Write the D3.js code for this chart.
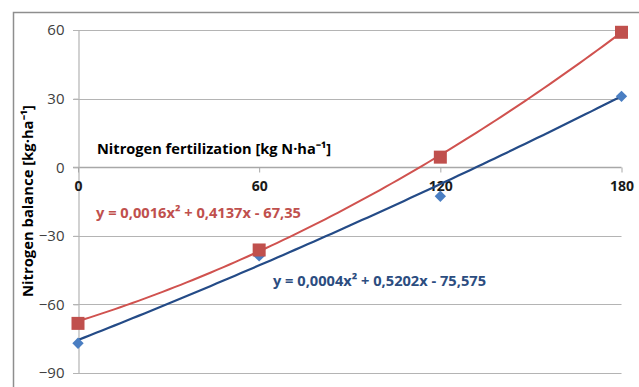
<!DOCTYPE html>
<html>
<head>
<meta charset="utf-8">
<script src="https://cdn.jsdelivr.net/npm/d3@7"></script>
<style>
    body { margin: 0; background: #fff; }
    svg { display: block; font-family: 'Open Sans', sans-serif; }
</style>
</head>
<body>
<div id="chart"></div>
<script>
// Dane
const xValues = [0, 60, 120, 180];
const blueValues = [-77, -38.8, -12.7, 31];
const redValues = [-68.3, -36.2, 4.4, 59];

const xTicks = [0, 60, 120, 180];
const yTicks = [60, 30, 0, -30, -60, -90];

// współczynniki trendu wielomianowego: c0 + c1*x + c2*x^2
const blueFit = [-75.575, 0.5202, 0.0004];
const redFit = [-67.35, 0.4137, 0.0016];

const blueLabel = 'y = 0,0004x² + 0,5202x - 75,575';
const redLabel = 'y = 0,0016x² + 0,4137x - 67,35';
const xTitleText = 'Nitrogen fertilization [kg N·ha⁻¹]';
const yTitleText = 'Nitrogen balance  [kg·ha⁻¹]';

const width = 639;
const height = 387;

const x = d3.scaleLinear().domain([0, 180]).range([78, 621.5]);
const y = d3.scaleLinear().domain([-90, 60]).range([373, 30]);

const svg = d3.select('#chart')
    .append('svg')
    .attr('width', width)
    .attr('height', height);

// ramka wykresu
svg.append('path')
    .attr('d', `M13.5,${height} V12.5 H${width}`)
    .attr('fill', 'none')
    .attr('stroke', '#8e8e8e')
    .attr('stroke-width', 1.5);

// linie siatki
svg.append('g')
    .selectAll('line')
    .data(yTicks)
    .enter()
    .append('line')
    .attr('x1', x(0) - 5)
    .attr('x2', x(180))
    .attr('y1', d => Math.round(y(d)) + 0.5)
    .attr('y2', d => Math.round(y(d)) + 0.5)
    .attr('stroke', d => d === 0 ? '#a8a8a8' : '#b4b4b4')
    .attr('stroke-width', d => d === 0 ? 1.5 : 1.2);

// oś Y
const yAxis = svg.append('g')
    .attr('transform', `translate(${Math.round(x(0)) + 0.5},0)`)
    .call(d3.axisLeft(y).tickValues(yTicks).tickSize(5).tickPadding(9));
yAxis.select('.domain').attr('stroke', '#b4b4b4').attr('stroke-width', 1.2);
yAxis.selectAll('.tick line').attr('stroke', '#b4b4b4');
yAxis.selectAll('.tick text')
    .attr('font-family', "'Open Sans', sans-serif")
    .attr('font-size', 15)
    .attr('fill', '#404040');

// oś X na poziomie zera
const xAxis = svg.append('g')
    .attr('transform', `translate(0,${Math.round(y(0)) + 0.5})`)
    .call(d3.axisBottom(x).tickValues(xTicks).tickSize(5).tickPadding(9));
xAxis.select('.domain').remove();
xAxis.selectAll('.tick line').attr('stroke', '#a8a8a8');
xAxis.selectAll('.tick text')
    .attr('font-family', "'Open Sans', sans-serif")
    .attr('font-size', 14)
    .attr('font-weight', 'bold')
    .attr('fill', '#1a1a1a');

// linie trendu
const trendX = d3.range(0, 180.5, 2);
const line = d3.line()
    .x(d => x(d[0]))
    .y(d => y(d[1]));

function trend(c) {
    return trendX.map(v => [v, c[0] + c[1] * v + c[2] * v * v]);
}

svg.append('path')
    .datum(trend(redFit))
    .attr('d', line)
    .attr('fill', 'none')
    .attr('stroke', '#d0524f')
    .attr('stroke-width', 2);

svg.append('path')
    .datum(trend(blueFit))
    .attr('d', line)
    .attr('fill', 'none')
    .attr('stroke', '#244b87')
    .attr('stroke-width', 2.2);

// znaczniki
svg.append('g')
    .selectAll('rect')
    .data(xValues.map((v, i) => [v, blueValues[i]]))
    .enter()
    .append('rect')
    .attr('x', -4)
    .attr('y', -4)
    .attr('width', 8)
    .attr('height', 8)
    .attr('fill', '#4a7ec2')
    .attr('transform', d => `translate(${x(d[0])},${y(d[1])}) rotate(45)`);

svg.append('g')
    .selectAll('rect')
    .data(xValues.map((v, i) => [v, redValues[i]]))
    .enter()
    .append('rect')
    .attr('x', d => x(d[0]) - 6.5)
    .attr('y', d => y(d[1]) - 6.5)
    .attr('width', 13)
    .attr('height', 13)
    .attr('fill', '#c0504d');

// równania
svg.append('text')
    .attr('x', 96)
    .attr('y', 218)
    .attr('font-size', 15)
    .attr('font-weight', 'bold')
    .attr('fill', '#c0504d')
    .attr('textLength', 205)
    .attr('lengthAdjust', 'spacingAndGlyphs')
    .text(redLabel);

svg.append('text')
    .attr('x', 273)
    .attr('y', 286)
    .attr('font-size', 15)
    .attr('font-weight', 'bold')
    .attr('fill', '#2c4d80')
    .attr('textLength', 213)
    .attr('lengthAdjust', 'spacingAndGlyphs')
    .text(blueLabel);

// tytuły osi
svg.append('text')
    .attr('x', 97)
    .attr('y', 154)
    .attr('font-size', 15)
    .attr('font-weight', 'bold')
    .attr('fill', '#000')
    .attr('textLength', 234)
    .attr('lengthAdjust', 'spacingAndGlyphs')
    .text(xTitleText);

svg.append('text')
    .attr('transform', 'translate(33,297) rotate(-90)')
    .attr('font-size', 15)
    .attr('font-weight', 'bold')
    .attr('fill', '#000')
    .attr('textLength', 192)
    .attr('lengthAdjust', 'spacingAndGlyphs')
    .text(yTitleText);
</script>
</body>
</html>
